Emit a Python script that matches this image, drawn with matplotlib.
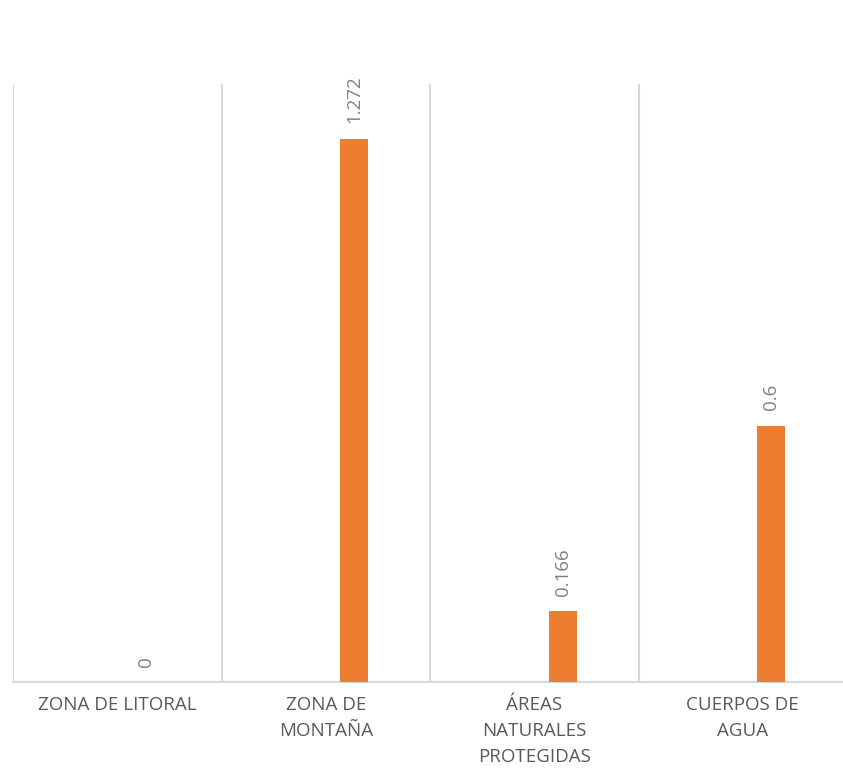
import matplotlib
matplotlib.use("Agg")
import matplotlib.pyplot as plt

categories = ["ZONA DE LITORAL", "ZONA DE\nMONTAÑA", "ÁREAS\nNATURALES\nPROTEGIDAS", "CUERPOS DE\nAGUA"]
values = [0, 1.272, 0.166, 0.6]
value_labels = ["0", "1.272", "0.166", "0.6"]

plt.rcParams['font.family'] = ['Open Sans', 'DejaVu Sans']

W, H = 843, 771
fig = plt.figure(figsize=(W / 100, H / 100), dpi=100)
left, right, top, bottom = 13, 847, 84, 682
ax = fig.add_axes([left / W, (H - bottom) / H, (right - left) / W, (bottom - top) / H])

x = list(range(len(categories)))
bar_w = 0.134
offset = 0.136
bx = [i + offset for i in x]
ax.bar(bx, values, width=bar_w, color="#ED7D31", zorder=3)

for xi, v, lab in zip(bx, values, value_labels):
    ax.annotate(lab, (xi, v), xytext=(0, 11), textcoords="offset points",
                rotation=90, ha="center", va="bottom", fontsize=13.5, color="#7f7f7f")

ax.set_xlim(-0.5, len(categories) - 0.5)
ax.set_ylim(0, 1.4)
ax.set_yticks([])
ax.set_xticks(x)
ax.set_xticklabels(categories, fontsize=13.5, color="#595959", linespacing=1.58)
ax.tick_params(axis="x", length=0, pad=10)
ax.set_xticks([i - 0.5 for i in range(len(categories) + 1)], minor=True)
ax.tick_params(axis="x", which="minor", length=0)
ax.grid(axis="x", which="minor", color="#d9d9d9", linewidth=1.5, zorder=0)
ax.grid(axis="x", which="major", visible=False)
for s in ["top", "right", "left"]:
    ax.spines[s].set_visible(False)
ax.spines["bottom"].set_color("#d9d9d9")
ax.spines["bottom"].set_linewidth(1.5)

fig.savefig("out.png", dpi=100, facecolor="white")
